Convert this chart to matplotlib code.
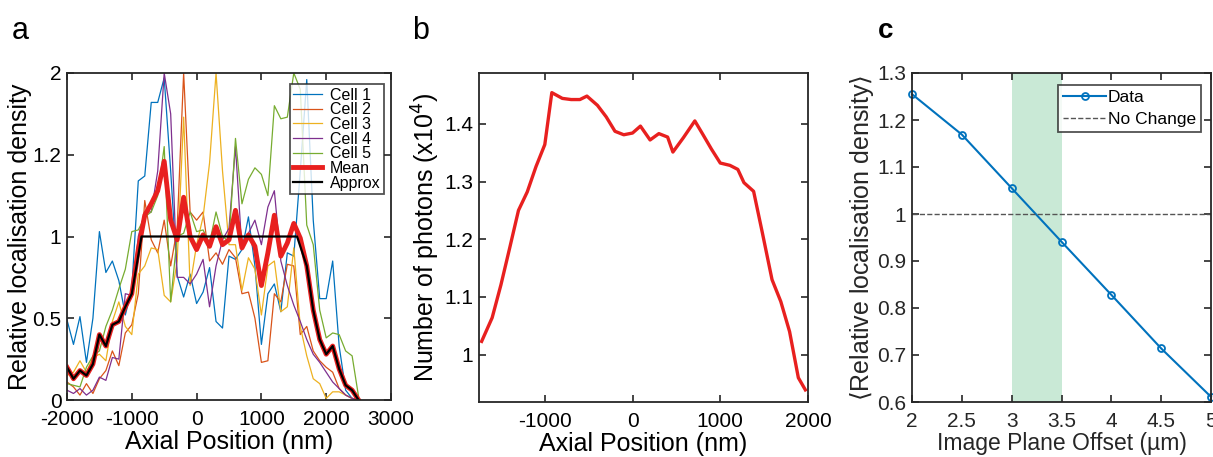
import matplotlib
matplotlib.use('Agg')
import matplotlib.pyplot as plt
from matplotlib.ticker import FuncFormatter

plt.rcParams['font.family'] = ['Liberation Sans', 'DejaVu Sans']
plt.rcParams['axes.unicode_minus'] = False

# Panel a: localisation density per cell, on a 100 nm grid
pos_a = list(range(-2000, 2501, 100))
cell1 = [0.49, 0.34, 0.51, 0.23, 0.50, 1.03, 0.78, 0.85, 0.73, 0.52, 0.68,
         1.34, 1.37, 1.82, 1.82, 1.97, 1.40, 0.76, 0.63, 0.77, 0.59, 0.66,
         0.81, 0.48, 0.44, 0.88, 0.86, 0.92, 1.12, 0.82, 0.34, 0.65, 0.71,
         0.54, 0.90, 0.88, 1.40, 1.96, 1.10, 0.62, 0.62, 0.85, 0.33, 0.06,
         0.01, 0.00]
cell2 = [0.11, 0.08, 0.03, 0.10, 0.04, 0.13, 0.18, 0.30, 0.21, 0.41, 0.46,
         0.65, 1.22, 0.98, 0.90, 1.10, 0.82, 1.05, 2.00, 1.15, 1.10, 1.15,
         0.85, 0.90, 0.83, 0.92, 0.87, 0.65, 0.66, 0.50, 0.23, 0.24, 0.65,
         0.60, 0.83, 0.82, 0.40, 0.45, 0.30, 0.24, 0.20, 0.17, 0.07, 0.03,
         0.01, 0.00]
cell3 = [0.15, 0.17, 0.24, 0.17, 0.26, 0.28, 0.24, 0.48, 0.60, 0.45, 0.40,
         0.77, 0.82, 0.93, 0.92, 0.64, 0.60, 0.85, 1.73, 0.70, 0.95, 1.12,
         1.45, 2.00, 1.40, 0.95, 0.95, 0.67, 0.87, 0.80, 0.52, 0.82, 0.85,
         0.54, 0.57, 0.93, 0.45, 0.27, 0.13, 0.10, 0.01, 0.05, 0.05, 0.03,
         0.01, 0.00]
cell4 = [0.06, 0.04, 0.07, 0.03, 0.06, 0.14, 0.12, 0.26, 0.25, 0.65, 0.64,
         1.00, 1.15, 1.15, 1.40, 2.00, 1.75, 0.75, 0.75, 0.71, 0.77, 0.86,
         0.57, 0.82, 0.98, 1.05, 1.55, 0.92, 1.02, 1.10, 0.95, 1.18, 1.28,
         0.85, 0.70, 0.58, 0.48, 0.37, 0.28, 0.23, 0.17, 0.11, 0.07, 0.03,
         0.01, 0.00]
cell5 = [0.10, 0.09, 0.08, 0.20, 0.27, 0.30, 0.45, 0.55, 0.68, 0.80, 1.03,
         1.04, 1.12, 1.15, 1.25, 1.55, 0.60, 1.00, 1.02, 1.15, 1.03, 1.04,
         0.96, 1.15, 1.00, 0.97, 1.60, 1.20, 1.35, 1.42, 1.38, 1.25, 1.80,
         1.72, 1.73, 2.00, 1.90, 1.07, 0.95, 0.55, 0.38, 0.41, 0.40, 0.30,
         0.27, 0.02]
mean_a = [0.20, 0.13, 0.18, 0.15, 0.22, 0.40, 0.33, 0.46, 0.48, 0.57, 0.65,
          0.92, 1.13, 1.20, 1.28, 1.46, 1.10, 0.98, 1.24, 1.00, 0.92, 1.01,
          0.94, 1.06, 0.95, 0.98, 1.16, 0.93, 1.01, 0.94, 0.70, 0.90, 1.13,
          0.88, 0.96, 1.08, 0.99, 0.82, 0.55, 0.37, 0.28, 0.33, 0.19, 0.09,
          0.06, 0.00]
approx_x = [-2000, -1900, -1800, -1700, -1600, -1500, -1400, -1300, -1200,
            -1100, -1000, -850, 1550, 1700, 1800, 1900, 2000, 2100, 2200,
            2300, 2400, 2500]
approx_y = [0.20, 0.13, 0.18, 0.15, 0.22, 0.40, 0.33, 0.46, 0.48, 0.57, 0.65,
            1.00, 1.00, 0.82, 0.55, 0.37, 0.28, 0.33, 0.19, 0.09, 0.06, 0.00]
cell_names = ['Cell 1', 'Cell 2', 'Cell 3', 'Cell 4', 'Cell 5']
cell_colors = ['#0072BD', '#D95319', '#EDB120', '#7E2F8E', '#77AC30']

# Panel b: photon number
pos_b = [-1720, -1600, -1500, -1400, -1300, -1200, -1100, -1000, -920, -800,
         -700, -600, -520, -400, -300, -200, -100, 0, 90, 200, 300, 400, 460,
         580, 710, 800, 900, 1000, 1110, 1200, 1270, 1380, 1480, 1590, 1690,
         1790, 1890, 1970]
photons = [1.023, 1.064, 1.121, 1.185, 1.250, 1.282, 1.326, 1.364, 1.454,
           1.444, 1.442, 1.442, 1.448, 1.432, 1.412, 1.387, 1.381, 1.384,
           1.396, 1.372, 1.383, 1.377, 1.351, 1.376, 1.405, 1.382, 1.356,
           1.332, 1.328, 1.321, 1.298, 1.283, 1.211, 1.130, 1.092, 1.040,
           0.960, 0.939]

# Panel c: mean density vs offset
offset = [2, 2.5, 3, 3.5, 4, 4.5, 5]
density_c = [1.255, 1.169, 1.055, 0.941, 0.828, 0.714, 0.611]

W, H = 1213, 457
fig = plt.figure(figsize=(W / 100, H / 100), dpi=100)

def box(l, r, t, b):
    return [l / W, (H - b) / H, (r - l) / W, (b - t) / H]

def style(ax):
    ax.tick_params(direction='in', top=True, right=True, length=5,
                   width=1.2, labelsize=15, colors='#262626', labelcolor='black')
    ax.tick_params(axis='x', pad=7)
    ax.tick_params(axis='y', pad=4)
    for s in ax.spines.values():
        s.set_linewidth(1.3)
        s.set_color('#262626')

fmt = FuncFormatter(lambda v, p: '%g' % round(v, 3))

# ---- a ----
ax1 = fig.add_axes(box(67, 391, 73, 400))
for y, n, c in zip([cell1, cell2, cell3, cell4, cell5], cell_names, cell_colors):
    ax1.plot(pos_a, y, color=c, lw=0.9, label=n)
ax1.plot(pos_a, mean_a, color='#E8201F', lw=3.5, label='Mean')
ax1.plot(approx_x, approx_y, color='black', lw=1.6, label='Approx')
ax1.set_xlim(-2000, 3000)
ax1.set_ylim(0, 2)
ax1.set_xticks([-2000, -1000, 0, 1000, 2000, 3000])
ax1.set_yticks([0, 0.5, 1, 1.5, 2])
ax1.set_yticklabels(['0', '0.5', '1', '1.2', '2'])
style(ax1)
ax1.set_xlabel('Axial Position (nm)', fontsize=18, labelpad=1)
ax1.set_ylabel('Relative localisation density', fontsize=18, labelpad=0)
leg = ax1.legend(loc='upper right', bbox_to_anchor=(0.978, 0.965), fontsize=11.5,
                 frameon=True, fancybox=False, edgecolor='#262626',
                 labelspacing=-0.02, handlelength=1.8, handletextpad=0.5,
                 borderpad=0.2, borderaxespad=0)
leg.get_frame().set_linewidth(1.3)

# ---- b ----
ax2 = fig.add_axes(box(479, 808, 73, 402))
ax2.plot(pos_b, photons, color='#E8201F', lw=2.4)
ax2.set_xlim(-1750, 2000)
ax2.set_ylim(0.918, 1.488)
ax2.set_xticks([-1000, 0, 1000, 2000])
ax2.set_yticks([1.0, 1.1, 1.2, 1.3, 1.4])
ax2.yaxis.set_major_formatter(fmt)
style(ax2)
ax2.set_xlabel('Axial Position (nm)', fontsize=18, labelpad=1)
ax2.set_ylabel('Number of photons (x10$^4$)', fontsize=18, labelpad=2)

# ---- c ----
ax3 = fig.add_axes(box(912, 1211, 73, 402))
ax3.axvspan(3, 3.5, color='#C9E9D6', lw=0)
ax3.plot(offset, density_c, '-o', color='#0072BD', lw=1.5, ms=5,
         mfc='none', mew=1.3, clip_on=False, label='Data')
ax3.axhline(1, color='#555555', ls='--', lw=1, label='No Change')
ax3.set_xlim(2, 5)
ax3.set_ylim(0.6, 1.3)
ax3.set_xticks(offset)
ax3.set_yticks([0.6, 0.7, 0.8, 0.9, 1.0, 1.1, 1.2, 1.3])
ax3.xaxis.set_major_formatter(fmt)
ax3.yaxis.set_major_formatter(fmt)
style(ax3)
ax3.tick_params(labelcolor='#262626')
ax3.set_xlabel('Image Plane Offset (\u00b5m)', fontsize=16.5, labelpad=1, color='#262626')
ax3.set_ylabel(r'$\langle$Relative localisation density$\rangle$', fontsize=18,
               labelpad=1, color='#262626')
leg3 = ax3.legend(loc='upper right', bbox_to_anchor=(0.968, 0.965), fontsize=12.5,
                  frameon=True, fancybox=False, edgecolor='#262626',
                  labelspacing=0.4, handlelength=2.5, handletextpad=0.1,
                  borderpad=0.3, borderaxespad=0)
leg3.get_frame().set_linewidth(1.3)

# panel letters
fig.text(12 / W, 1 - 31 / H, 'a', fontsize=22, va='center')
fig.text(412 / W, 1 - 31 / H, 'b', fontsize=22, va='center')
fig.text(878 / W, 1 - 31 / H, 'c', fontsize=20, va='center', fontweight='bold')

fig.savefig('out.png', dpi=100)
